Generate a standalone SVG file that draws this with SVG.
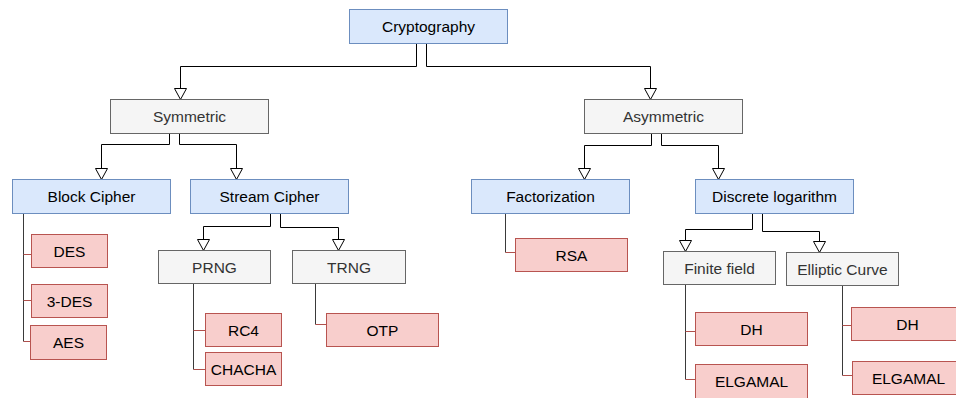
<svg xmlns="http://www.w3.org/2000/svg" width="956" height="398" viewBox="0 0 956 398">
  <style>
    .blue rect { fill: #dae8fc; stroke: #6c8ebf; stroke-width: 1; }
    .gray rect { fill: #f5f5f5; stroke: #666666; stroke-width: 1; }
    .red rect { fill: #f8cecc; stroke: #b85450; stroke-width: 1; }
    text { font-family: "Liberation Sans", Arial, Helvetica, sans-serif; font-size: 15.5px; text-anchor: middle; fill: #000000; }
    .gray text { fill: #333333; }
    .edge { fill: none; stroke: #000000; stroke-width: 1; }
    .trunk { fill: none; stroke: #3a3a3a; stroke-width: 1; }
    .twig { fill: none; stroke: #b0504c; stroke-width: 1; }
  </style>
  <defs>
    <marker id="tri" markerUnits="userSpaceOnUse" markerWidth="14" markerHeight="14" refX="12" refY="7" orient="auto">
      <path d="M1,1 L12,7 L1,13 Z" fill="#ffffff" stroke="#000000" stroke-width="1"/>
    </marker>
  </defs>

  <rect width="956" height="398" fill="#ffffff"/>

  <!-- connectors -->
  <g id="connectors">
    <path class="edge" d="M416.5,43.5 V66.5 H180.5 V99.5" marker-end="url(#tri)"/>
    <path class="edge" d="M426.5,43.5 V66.5 H650.5 V99.5" marker-end="url(#tri)"/>
    <path class="edge" d="M169.5,133.5 V144.5 H101.5 V179.5" marker-end="url(#tri)"/>
    <path class="edge" d="M179.5,133.5 V144.5 H236.5 V179.5" marker-end="url(#tri)"/>
    <path class="edge" d="M651.5,133.5 V145.5 H584.5 V179.5" marker-end="url(#tri)"/>
    <path class="edge" d="M661.5,133.5 V145.5 H718.5 V179.5" marker-end="url(#tri)"/>
    <path class="edge" d="M270.5,213.5 V226.5 H203.5 V250.5" marker-end="url(#tri)"/>
    <path class="edge" d="M280.5,213.5 V227.5 H338.5 V250.5" marker-end="url(#tri)"/>
    <path class="edge" d="M752.5,213.5 V229.5 H685.5 V251.5" marker-end="url(#tri)"/>
    <path class="edge" d="M762.5,213.5 V231.5 H819.5 V252.5" marker-end="url(#tri)"/>

    <!-- Block Cipher leaves -->
    <path class="trunk" d="M23.5,213.5 V341.5"/>
    <path class="twig" d="M23.5,254.5 H31.5 M23.5,300.5 H31.5 M23.5,341.5 H30.5"/>
    <!-- PRNG leaves -->
    <path class="trunk" d="M193.5,283.5 V369.5"/>
    <path class="twig" d="M193.5,330.5 H205.5 M193.5,369.5 H205.5"/>
    <!-- TRNG leaf -->
    <path class="trunk" d="M315.5,283.5 V324.5"/>
    <path class="twig" d="M315.5,324.5 H326.5"/>
    <!-- Factorization leaf -->
    <path class="trunk" d="M505.5,213.5 V252.5"/>
    <path class="twig" d="M505.5,252.5 H515.5"/>
    <!-- Finite field leaves -->
    <path class="trunk" d="M685.5,284.5 V379.5"/>
    <path class="twig" d="M685.5,331.5 H695.5 M685.5,379.5 H695.5"/>
    <!-- Elliptic Curve leaves -->
    <path class="trunk" d="M842.5,285.5 V375.5"/>
    <path class="twig" d="M842.5,325.5 H851.5 M842.5,375.5 H852.5"/>
  </g>

  <!-- nodes -->
  <g id="cryptography" class="blue"><rect x="349.5" y="9.5" width="158" height="34"/><text x="428.5" y="32">Cryptography</text></g>
  <g id="symmetric" class="gray"><rect x="110.5" y="99.5" width="158" height="34"/><text x="189.5" y="122">Symmetric</text></g>
  <g id="asymmetric" class="gray"><rect x="584.5" y="99.5" width="158" height="34"/><text x="663.5" y="122">Asymmetric</text></g>
  <g id="block-cipher" class="blue"><rect x="12.5" y="179.5" width="158" height="34"/><text x="91.5" y="202">Block Cipher</text></g>
  <g id="stream-cipher" class="blue"><rect x="190.5" y="179.5" width="158" height="34"/><text x="269.5" y="202">Stream Cipher</text></g>
  <g id="factorization" class="blue"><rect x="471.5" y="179.5" width="158" height="34"/><text x="550.5" y="202">Factorization</text></g>
  <g id="discrete-logarithm" class="blue"><rect x="695.5" y="179.5" width="158" height="34"/><text x="774.5" y="202">Discrete logarithm</text></g>

  <g id="prng" class="gray"><rect x="158.5" y="250.5" width="112" height="33"/><text x="214.5" y="272.5">PRNG</text></g>
  <g id="trng" class="gray"><rect x="292.5" y="250.5" width="113" height="33"/><text x="349" y="272.5">TRNG</text></g>
  <g id="finite-field" class="gray"><rect x="663.5" y="251.5" width="112" height="33"/><text x="719.5" y="273.5">Finite field</text></g>
  <g id="elliptic-curve" class="gray"><rect x="786.5" y="252.5" width="112" height="33"/><text x="842.5" y="274.5">Elliptic Curve</text></g>

  <g id="des" class="red"><rect x="31.5" y="234.5" width="76" height="33"/><text x="69.5" y="256.5">DES</text></g>
  <g id="3des" class="red"><rect x="31.5" y="284.5" width="76" height="33"/><text x="69.5" y="306.5">3-DES</text></g>
  <g id="aes" class="red"><rect x="30.5" y="325.5" width="76" height="34"/><text x="68.5" y="348">AES</text></g>
  <g id="rc4" class="red"><rect x="205.5" y="313.5" width="76" height="33"/><text x="243.5" y="335.5">RC4</text></g>
  <g id="chacha" class="red"><rect x="205.5" y="352.5" width="76" height="33"/><text x="243.5" y="374.5">CHACHA</text></g>
  <g id="otp" class="red"><rect x="326.5" y="313.5" width="112" height="33"/><text x="382.5" y="335.5">OTP</text></g>
  <g id="rsa" class="red"><rect x="515.5" y="238.5" width="112" height="33"/><text x="571.5" y="260.5">RSA</text></g>
  <g id="dh-ff" class="red"><rect x="695.5" y="312.5" width="112" height="33"/><text x="751.5" y="334.5">DH</text></g>
  <g id="elgamal-ff" class="red"><rect x="695.5" y="364.5" width="112" height="34"/><text x="751.5" y="387">ELGAMAL</text></g>
  <g id="dh-ec" class="red"><rect x="851.5" y="307.5" width="112" height="33"/><text x="907.5" y="329.5">DH</text></g>
  <g id="elgamal-ec" class="red"><rect x="852.5" y="361.5" width="112" height="33"/><text x="908.5" y="383.5">ELGAMAL</text></g>
</svg>
